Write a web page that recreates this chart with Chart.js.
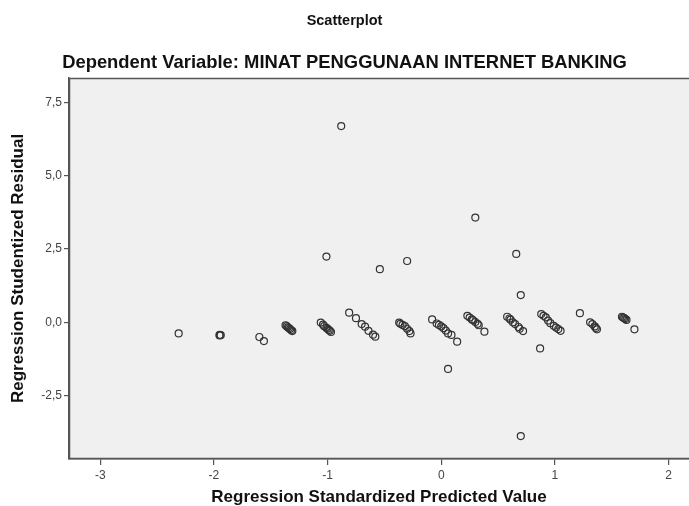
<!DOCTYPE html>
<html>
<head>
<meta charset="utf-8">
<script src="https://cdn.jsdelivr.net/npm/chart.js@4.4.0/dist/chart.umd.min.js"></script>
<style>
  html, body { margin: 0; padding: 0; background: #ffffff; }
  #wrap { width: 689px; height: 506px; position: relative; }
</style>
</head>
<body>
<div id="wrap"><canvas id="c" width="689" height="506"></canvas></div>
<script>
// Regression standardized predicted value (x) and studentized residual (y)
const predictedValues = [
  -2.31,
  -1.95, -1.95, -1.94,
  -1.60, -1.56,
  -1.37, -1.36, -1.35, -1.34, -1.33, -1.32, -1.31,
  -1.06, -1.04, -1.03, -1.01, -1.00, -0.99, -0.98, -0.97,
  -1.01, -0.88,
  -0.81, -0.75, -0.70, -0.67, -0.64, -0.60, -0.58,
  -0.54,
  -0.37, -0.36, -0.34, -0.32, -0.30, -0.28, -0.27,
  -0.30,
  -0.08, -0.04, -0.02, 0.00, 0.02, 0.04, 0.06, 0.09, 0.14,
  0.06,
  0.23, 0.25, 0.27, 0.28, 0.30, 0.32, 0.33, 0.38,
  0.30,
  0.58, 0.60, 0.61, 0.63, 0.65, 0.68, 0.69, 0.72,
  0.66, 0.70, 0.70,
  0.88, 0.90, 0.92, 0.94, 0.96, 0.99, 1.01, 1.03, 1.05,
  0.87,
  1.22,
  1.31, 1.33, 1.35, 1.36, 1.37,
  1.59, 1.60, 1.61, 1.62, 1.63,
  1.70
];
const studentizedResiduals = [
  -0.38,
  -0.43, -0.45, -0.44,
  -0.50, -0.64,
  -0.10, -0.13, -0.17, -0.20, -0.23, -0.27, -0.30,
  -0.01, -0.08, -0.13, -0.19, -0.22, -0.26, -0.29, -0.33,
  2.24, 6.69,
  0.33, 0.14, -0.06, -0.15, -0.29, -0.42, -0.49,
  1.81,
  -0.01, -0.05, -0.09, -0.13, -0.22, -0.30, -0.38,
  2.09,
  0.10, -0.04, -0.09, -0.14, -0.20, -0.28, -0.38, -0.43, -0.66,
  -1.59,
  0.22, 0.16, 0.10, 0.07, 0.01, -0.05, -0.10, -0.32,
  3.57,
  0.19, 0.13, 0.09, 0.00, -0.06, -0.16, -0.22, -0.30,
  2.33, 0.93, -3.88,
  0.28, 0.22, 0.17, 0.06, -0.03, -0.12, -0.18, -0.23, -0.29,
  -0.89,
  0.31,
  0.00, -0.06, -0.14, -0.19, -0.24,
  0.19, 0.16, 0.14, 0.11, 0.08,
  -0.24
];
const xTickValues = [-3, -2, -1, 0, 1, 2];
const yTickValues = [-2.5, 0, 2.5, 5, 7.5];

const points = predictedValues.map((x, i) => ({ x: x, y: studentizedResiduals[i] }));

const frame = {
  id: 'frame',
  beforeDatasetsDraw(chart) {
    const a = chart.chartArea, ctx = chart.ctx;
    ctx.save();
    ctx.fillStyle = '#f0f0f0';
    ctx.fillRect(a.left, a.top, a.right - a.left, a.bottom - a.top);
    ctx.restore();
  },
  afterDatasetsDraw(chart) {
    const a = chart.chartArea, ctx = chart.ctx;
    ctx.save();
    ctx.strokeStyle = '#555555';
    ctx.lineWidth = 1.5;
    ctx.beginPath();
    ctx.moveTo(a.right + 2, a.top + 0.5);
    ctx.lineTo(a.left + 0.5, a.top + 0.5);
    ctx.lineTo(a.left + 0.5, a.bottom - 0.5);
    ctx.lineTo(a.right + 2, a.bottom - 0.5);
    ctx.stroke();
    ctx.restore();
  }
};

new Chart(document.getElementById('c'), {
  type: 'scatter',
  data: {
    datasets: [{
      data: points,
      pointStyle: 'circle',
      pointRadius: 3.5,
      pointBorderWidth: 1.2,
      pointBorderColor: '#333333',
      pointBackgroundColor: 'rgba(0,0,0,0)',
      pointHoverRadius: 3.5,
      clip: false
    }]
  },
  options: {
    responsive: false,
    animation: false,
    layout: { autoPadding: false, padding: { left: 0, right: 0, top: 0, bottom: 0 } },
    plugins: {
      legend: { display: false },
      tooltip: { enabled: false },
      title: {
        display: true,
        text: 'Scatterplot',
        color: '#111111',
        font: { family: 'Liberation Sans', size: 14.5, weight: 'bold', lineHeight: 1.2 },
        padding: { top: 12, bottom: 0 }
      },
      subtitle: {
        display: true,
        text: 'Dependent Variable: MINAT PENGGUNAAN INTERNET BANKING',
        color: '#111111',
        font: { family: 'Liberation Sans', size: 18.4, weight: 'bold', lineHeight: 1.2 },
        padding: { top: 22, bottom: 4.5 }
      }
    },
    scales: {
      x: {
        type: 'linear',
        min: -3.275,
        max: 2.18,
        afterBuildTicks(scale) { scale.ticks = xTickValues.map(v => ({ value: v })); },
        afterFit(scale) { scale.height = 47; scale.paddingRight = 0; scale.paddingLeft = 0; },
        grid: { display: true, drawOnChartArea: false, drawTicks: true, tickLength: 6, color: '#555555', lineWidth: 1.2 },
        border: { display: true, color: '#555555', width: 1.5 },
        ticks: {
          color: '#444444',
          font: { family: 'Liberation Sans', size: 12 },
          padding: 3,
          maxRotation: 0,
          autoSkip: false,
          callback: v => String(v)
        },
        title: {
          display: true,
          text: 'Regression Standardized Predicted Value',
          color: '#111111',
          font: { family: 'Liberation Sans', size: 17, weight: 'bold', lineHeight: 1.0 },
          padding: { top: 0, bottom: 0 }
        }
      },
      y: {
        type: 'linear',
        min: -4.66,
        max: 8.33,
        afterBuildTicks(scale) { scale.ticks = yTickValues.map(v => ({ value: v })); },
        afterFit(scale) { scale.width = 69; scale.paddingTop = 0; scale.paddingBottom = 0; },
        grid: { display: true, drawOnChartArea: false, drawTicks: true, tickLength: 5, color: '#555555', lineWidth: 1.2 },
        border: { display: true, color: '#555555', width: 1.5 },
        ticks: {
          color: '#444444',
          font: { family: 'Liberation Sans', size: 12 },
          padding: 2,
          autoSkip: false,
          callback: v => v.toFixed(1).replace('.', ',')
        },
        title: {
          display: true,
          text: 'Regression Studentized Residual',
          color: '#111111',
          font: { family: 'Liberation Sans', size: 17, weight: 'bold', lineHeight: 1.2 },
          padding: { top: 8, bottom: 0 }
        }
      }
    }
  },
  plugins: [frame]
});
</script>
</body>
</html>
